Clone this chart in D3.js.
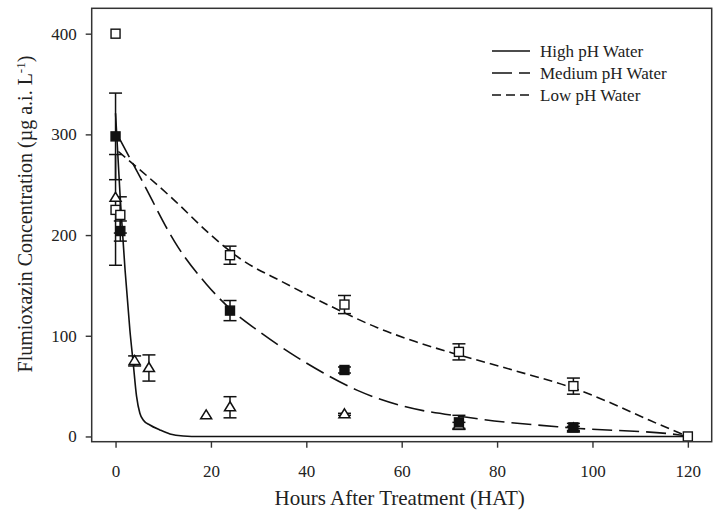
<!DOCTYPE html>
<html><head><meta charset="utf-8">
<script src="https://cdn.jsdelivr.net/npm/d3@7"></script>
<style>
html,body{margin:0;padding:0;background:#fff;}
svg{display:block;font-family:"Liberation Serif","Times New Roman",serif;}
</style></head>
<body>
<svg id="chart" width="717" height="514"></svg>
<script>
// ---- data ----
const xTicks = [0, 20, 40, 60, 80, 100, 120];
const yTicks = [0, 100, 200, 300, 400];
const seriesNames = ["High pH Water", "Medium pH Water", "Low pH Water"];

// observed points
const highHours = [0, 4, 7, 19, 24, 48, 72, 96];
const highValues = [237, 75, 68, 21, 29, 22, 11, 8];
const highErr = [0, 5, 13, 0, 10.5, 1, 3, 2];

const medHours = [0, 1, 24, 48, 72, 96];
const medValues = [298, 204, 125, 66, 14, 9];
const medErr = [43, 10, 10, 3, 7, 4];

const lowHours = [0, 0, 1, 24, 48, 72, 96, 120];
const lowValues = [400, 225, 220, 180, 131, 84, 50, 0];
const lowErr = [0, 55, 18, 9, 9, 8, 8, 0];

// fitted curves
const highCurveHours = [0, 1, 2, 3, 3.7, 4.4, 5.1, 5.8, 7.2, 9.3, 11.4, 14.2, 17.7, 120];
const highCurveValues = [321, 235, 165, 106, 73, 40, 23, 16.4, 11.4, 6.5, 2.5, 0.5, 0, 0];
const medCurveHours = [0.9, 5.1, 13.1, 19.1, 25.4, 29.6, 36.6, 43.6, 50.6, 59.6, 73.7, 96, 118.3, 120];
const medCurveValues = [295, 258, 188, 151, 121, 106, 83, 63, 46, 31, 19, 8.4, 1.5, 0];
const lowCurveHours = [0.6, 12, 20, 26, 35.2, 45.7, 54.9, 63, 72, 84, 96, 104, 112, 120];
const lowCurveValues = [283, 236, 200, 177, 153, 128, 108, 94, 81, 65, 48, 33, 16, 0];

// ---- layout ----
const svg = d3.select("#chart");
const L = 91.7, R = 711.7, T = 8.3, B = 441.7;
const x = d3.scaleLinear().domain([-5, 125]).range([L, R]);
const y = d3.scaleLinear().domain([-5.2, 425.2]).range([B, T]);
const ink = "#111";

// curves
const line = d3.line().x(d => x(d[0])).y(d => y(d[1])).curve(d3.curveMonotoneX);
const curves = [
  {h: highCurveHours, v: highCurveValues, dash: null},
  {h: medCurveHours, v: medCurveValues, dash: "20,7"},
  {h: lowCurveHours, v: lowCurveValues, dash: "9,5"}
];
curves.forEach(c => {
  svg.append("path")
    .attr("d", line(c.h.map((h, i) => [h, c.v[i]])))
    .attr("fill", "none").attr("stroke", ink).attr("stroke-width", 1.6)
    .attr("stroke-dasharray", c.dash);
});

// error bars + markers
const sets = [
  {h: highHours, v: highValues, e: highErr, type: "tri"},
  {h: medHours, v: medValues, e: medErr, type: "fsq"},
  {h: lowHours, v: lowValues, e: lowErr, type: "osq"}
];
const capW = 6.5;
sets.forEach(s => {
  const g = svg.append("g");
  s.h.forEach((h, i) => {
    const e = s.e[i];
    if (e > 0) {
      const cx = x(h), y1 = y(s.v[i] + e), y0 = y(s.v[i] - e);
      g.append("line").attr("x1", cx).attr("x2", cx).attr("y1", y1).attr("y2", y0)
        .attr("stroke", ink).attr("stroke-width", 1.5);
      [y1, y0].forEach(yy => g.append("line").attr("x1", cx - capW).attr("x2", cx + capW)
        .attr("y1", yy).attr("y2", yy).attr("stroke", ink).attr("stroke-width", 1.5));
    }
  });
});
sets.forEach(s => {
  const g = svg.append("g");
  s.h.forEach((h, i) => {
    const cx = x(h), cy = y(s.v[i]);
    if (s.type === "tri") {
      g.append("path").attr("d", `M${cx},${cy - 5.5}L${cx + 5.5},${cy + 3.5}L${cx - 5.5},${cy + 3.5}Z`)
        .attr("fill", "#fff").attr("stroke", ink).attr("stroke-width", 1.5);
    } else {
      g.append("rect").attr("x", cx - 4.5).attr("y", cy - 4.5).attr("width", 9).attr("height", 9)
        .attr("fill", s.type === "fsq" ? ink : "#fff").attr("stroke", ink).attr("stroke-width", 1.4);
    }
  });
});

// frame
svg.append("rect").attr("x", L).attr("y", T).attr("width", R - L).attr("height", B - T)
  .attr("fill", "none").attr("stroke", "#333").attr("stroke-width", 1.5);

// axes
const xAxis = d3.axisBottom(x).tickValues(xTicks).tickSize(6).tickPadding(17).tickFormat(d3.format("d"));
const yAxis = d3.axisLeft(y).tickValues(yTicks).tickSize(6).tickPadding(9).tickFormat(d3.format("d"));
const gx = svg.append("g").attr("transform", `translate(0,${B})`).call(xAxis);
const gy = svg.append("g").attr("transform", `translate(${L},0)`).call(yAxis);
[gx, gy].forEach(g => {
  g.select(".domain").remove();
  g.selectAll(".tick line").attr("stroke", "#333").attr("stroke-width", 1.4);
  g.selectAll(".tick text").attr("font-family", "Liberation Serif, serif").attr("font-size", 17).attr("fill", "#222");
});

// axis titles
svg.append("text").attr("x", (L + R) / 2 - 2).attr("y", 505).attr("text-anchor", "middle")
  .attr("font-size", 21).attr("fill", "#222").text("Hours After Treatment (HAT)");
const yt = svg.append("text").attr("transform", "translate(32,214) rotate(-90)")
  .attr("text-anchor", "middle").attr("font-size", 20).attr("fill", "#222");
yt.append("tspan").text("Flumioxazin Concentration (µg a.i. L");
yt.append("tspan").attr("dy", -7).attr("font-size", 13).text("-1");
yt.append("tspan").attr("dy", 7).text(")");

// legend
const legY = [51, 73, 95];
const legDash = [null, "20,7", "9,5"];
seriesNames.forEach((n, i) => {
  svg.append("line").attr("x1", 492).attr("x2", 530).attr("y1", legY[i]).attr("y2", legY[i])
    .attr("stroke", ink).attr("stroke-width", 1.6).attr("stroke-dasharray", legDash[i]);
  svg.append("text").attr("x", 540).attr("y", legY[i] + 5.5).attr("font-size", 17).attr("fill", "#222").text(n);
});
</script>
</body></html>
